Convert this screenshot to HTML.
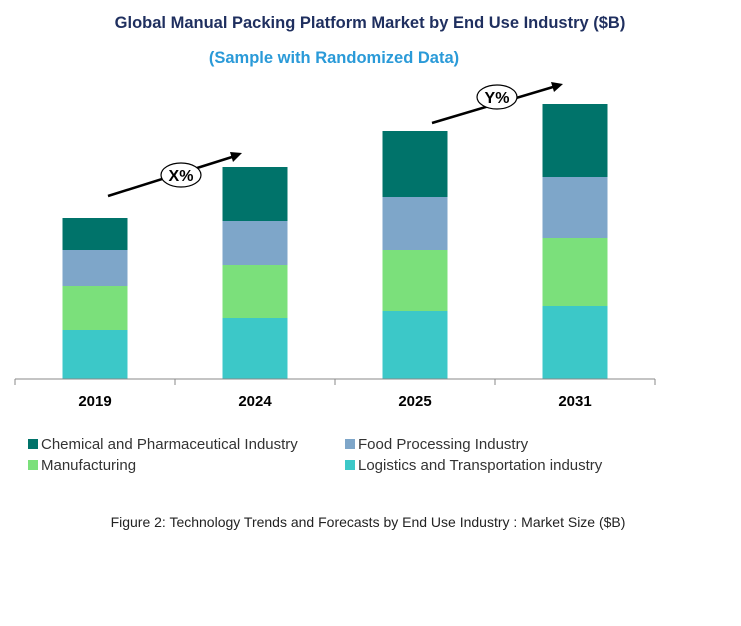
<!DOCTYPE html>
<html><head><meta charset="utf-8"><style>
body{margin:0;background:#fff;width:741px;height:621px;overflow:hidden;font-family:"Liberation Sans",Arial,sans-serif}
</style></head><body>
<svg id="chart" width="741" height="621" xmlns="http://www.w3.org/2000/svg" font-family="Liberation Sans, Arial, sans-serif">
<text x="370" y="28" text-anchor="middle" font-size="16.5" font-weight="bold" fill="#1f2f5f">Global Manual Packing Platform Market by End Use Industry ($B)</text>
<text x="334" y="63" text-anchor="middle" font-size="16.5" font-weight="bold" fill="#2a9ad8">(Sample with Randomized Data)</text>
<g id="bars"></g>
<g id="axis"></g>
<g>
<line x1="108" y1="196" x2="232" y2="157" stroke="#000" stroke-width="2.5"/>
<polygon points="242,153 230,152 233,162" fill="#000"/>
<ellipse cx="181" cy="175" rx="20" ry="12" fill="#fff" stroke="#000" stroke-width="1.2"/>
<text x="181" y="181" text-anchor="middle" font-size="16" font-weight="bold">X%</text>
</g>
<g>
<line x1="432" y1="123" x2="553" y2="87" stroke="#000" stroke-width="2.5"/>
<polygon points="563,84 551,82 554,92" fill="#000"/>
<ellipse cx="497" cy="97" rx="20" ry="12" fill="#fff" stroke="#000" stroke-width="1.2"/>
<text x="497" y="103" text-anchor="middle" font-size="16" font-weight="bold">Y%</text>
</g>
<g font-size="15" fill="#333">
<rect x="28" y="439" width="10" height="10" fill="#00736a"/><text x="41" y="449">Chemical and Pharmaceutical Industry</text>
<rect x="345" y="439" width="10" height="10" fill="#7ea6c9"/><text x="358" y="449">Food Processing Industry</text>
<rect x="28" y="460" width="10" height="10" fill="#7be07b"/><text x="41" y="470">Manufacturing</text>
<rect x="345" y="460" width="10" height="10" fill="#3cc8c8"/><text x="358" y="470">Logistics and Transportation industry</text>
</g>
<text x="368" y="527" text-anchor="middle" font-size="14" fill="#222">Figure 2: Technology  Trends  and Forecasts by End Use Industry  : Market Size ($B)</text>
</svg>
<script>
const categories=["2019","2024","2025","2031"];
const logistics=[4.9,6.1,6.8,7.3];
const manufacturing=[4.4,5.3,6.1,6.8];
const food=[3.6,4.4,5.3,6.1];
const chemical=[3.2,5.4,6.6,7.3];
const seriesNames=["logistics","manufacturing","food","chemical"];
const seriesColors=["#3cc8c8","#7be07b","#7ea6c9","#00736a"];
const NS="http://www.w3.org/2000/svg";
const base=379, pxPerUnit=10, x0=15, band=160, barW=65;
function xPos(i){return x0+band*i+(band-barW)/2;}
function yLen(v){return v*pxPerUnit;}
const bars=document.getElementById('bars');
const all=[logistics,manufacturing,food,chemical];
categories.forEach((c,i)=>{
  let y=base;
  all.forEach((s,k)=>{
    const h=yLen(s[i]); y-=h;
    const r=document.createElementNS(NS,'rect');
    
    
    r.setAttribute('x',xPos(i));r.setAttribute('y',y);r.setAttribute('width',barW);r.setAttribute('height',h);r.setAttribute('fill',seriesColors[k]);
    bars.appendChild(r);
  });
});
const axis=document.getElementById('axis');
const l=document.createElementNS(NS,'line');


l.setAttribute('x1',x0);l.setAttribute('x2',x0+band*categories.length);l.setAttribute('y1',base);l.setAttribute('y2',base);l.setAttribute('stroke','#888');
axis.appendChild(l);
for(let i=0;i<=categories.length;i++){
  const t=document.createElementNS(NS,'line');
  
  
  t.setAttribute('x1',x0+band*i);t.setAttribute('x2',x0+band*i);t.setAttribute('y1',base);t.setAttribute('y2',base+6);t.setAttribute('stroke','#888');
  axis.appendChild(t);
}
categories.forEach((c,i)=>{
  const t=document.createElementNS(NS,'text');
  
  
  t.setAttribute('x',x0+band*i+band/2);t.setAttribute('y',406);t.setAttribute('text-anchor','middle');t.setAttribute('font-size','15');t.setAttribute('font-weight','bold');
  t.textContent=c;axis.appendChild(t);
});
</script>
</body></html>
